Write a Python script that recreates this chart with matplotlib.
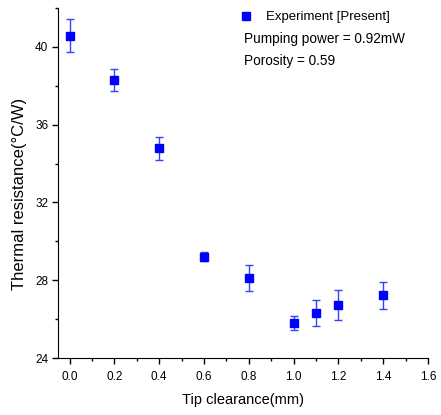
import matplotlib
matplotlib.use("Agg")
import matplotlib.pyplot as plt
from matplotlib.ticker import MultipleLocator
from matplotlib.lines import Line2D

plt.rcParams['font.family'] = ['Liberation Sans', 'DejaVu Sans']

tip_clearance = [0.0, 0.2, 0.4, 0.6, 0.8, 1.0, 1.1, 1.2, 1.4]
thermal_res = [40.58, 38.29, 34.78, 29.22, 28.13, 25.79, 26.30, 26.71, 27.23]
err = [0.85, 0.57, 0.60, 0.23, 0.67, 0.36, 0.67, 0.77, 0.70]

fig = plt.figure(figsize=(4.41, 4.15), dpi=100)
ax = fig.add_axes([0.1315, 0.1373, 0.839, 0.8434])

ax.errorbar(tip_clearance, thermal_res, yerr=err, fmt='s', color='#0000ff',
            ecolor='#3344ff', elinewidth=1.0, capsize=3, capthick=1.0,
            markersize=5.5)

ax.set_xlim(-0.052, 1.6)
ax.set_ylim(24, 42)
ax.xaxis.set_minor_locator(MultipleLocator(0.1))
ax.yaxis.set_major_locator(MultipleLocator(4))
ax.yaxis.set_minor_locator(MultipleLocator(2))
ax.set_xticks([0.0, 0.2, 0.4, 0.6, 0.8, 1.0, 1.2, 1.4, 1.6])
ax.set_xticklabels(['0.0', '0.2', '0.4', '0.6', '0.8', '1.0', '1.2', '1.4', '1.6'])

for s in ['top', 'right']:
    ax.spines[s].set_visible(False)
ax.tick_params(which='major', direction='out', length=4.5, width=1, labelsize=8.5, pad=2.5)
ax.tick_params(axis='x', which='major', pad=5)
ax.tick_params(which='minor', direction='out', length=2.5, width=1)

ax.set_xlabel('Tip clearance(mm)', fontsize=10.5, labelpad=7)
ax.set_ylabel('Thermal resistance(°C/W)', fontsize=12)
ax.yaxis.set_label_coords(-0.083, 0.47)

handle = Line2D([], [], marker='s', color='#0000ff', linestyle='none', markersize=5.5)
ax.legend([handle], ['Experiment [Present]'], loc='center left',
          bbox_to_anchor=(0.488, 0.974), frameon=False,
          fontsize=9.5, handletextpad=0.9, borderaxespad=0, handlelength=1.2,
          borderpad=0)
ax.text(0.503, 0.911, 'Pumping power = 0.92mW', transform=ax.transAxes, fontsize=9.8,
        va='center', ha='left')
ax.text(0.503, 0.849, 'Porosity = 0.59', transform=ax.transAxes, fontsize=9.8,
        va='center', ha='left')

fig.savefig('out.png', dpi=100)
